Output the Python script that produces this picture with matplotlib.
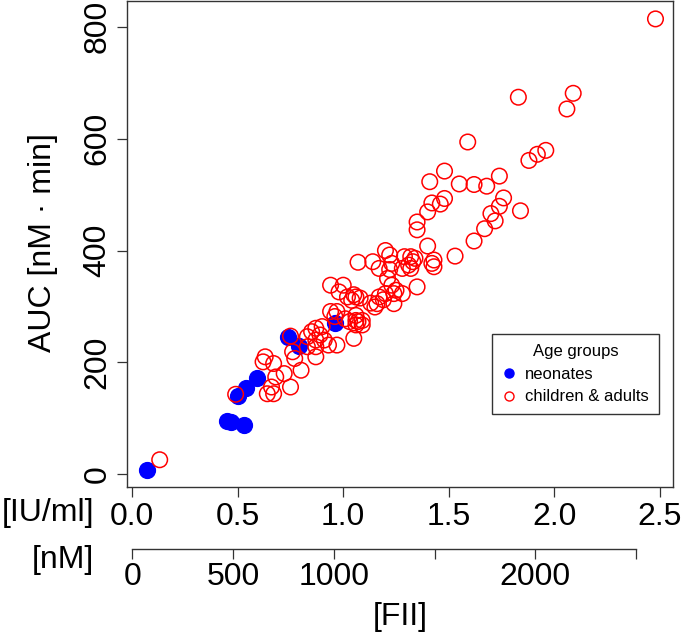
import numpy as np
import matplotlib
matplotlib.use("Agg")
import matplotlib.pyplot as plt
from matplotlib.lines import Line2D

plt.rcParams['font.family'] = ['Liberation Sans', 'DejaVu Sans']

# neonates (FII in IU/ml, AUC in nM*min)
neo_fii = [0.07, 0.45, 0.47, 0.53, 0.50, 0.54, 0.59, 0.74, 0.79, 0.96]
neo_auc = [8, 96, 94, 89, 140, 155, 172, 245, 230, 271]

# children & adults
ca_fii = [2.48, 2.09, 2.06, 1.83, 1.59, 1.96, 1.92, 1.88, 1.48, 1.41,
          1.55, 1.62, 1.68, 1.74, 1.76, 1.74, 1.70, 1.72, 1.67, 1.62,
          1.84, 1.48, 1.46, 1.42, 1.40, 1.35, 1.35, 1.40, 1.53,
          1.20, 1.22, 1.07, 1.14, 1.17, 1.23, 1.22, 1.32, 1.34, 1.29,
          1.43, 1.31, 1.33, 1.32, 1.42, 1.43, 1.28, 1.21, 1.23, 1.25,
          1.24, 1.28, 1.35, 1.17, 1.16, 1.15, 1.24, 1.00, 0.98, 1.02,
          1.06, 1.04, 0.94, 1.05, 1.08, 1.13, 1.19, 1.20,
          1.06, 1.06, 1.09, 1.01, 0.94, 0.97, 0.96, 1.03, 1.07, 1.09,
          1.06, 0.87, 0.85, 0.90, 0.83, 0.87, 0.89, 0.91, 0.87, 0.93,
          0.97, 1.05, 0.87, 0.83, 0.76, 0.77, 0.80, 0.63, 0.62, 0.67,
          0.72, 0.68, 0.66, 0.64, 0.67, 0.75, 0.49, 0.13, 0.75]
ca_auc = [814, 681, 653, 674, 594, 579, 572, 561, 542, 523,
          519, 518, 515, 533, 494, 479, 466, 453, 439, 417,
          471, 493, 483, 485, 469, 451, 437, 408, 390,
          400, 392, 379, 380, 368, 377, 366, 389, 386, 389,
          383, 374, 380, 368, 377, 371, 368, 350, 338, 329,
          323, 323, 335, 317, 305, 299, 305, 338, 326, 317,
          317, 311, 338, 321, 315, 306, 312, 323,
          284, 275, 275, 278, 291, 291, 282, 273, 273, 267,
          267, 261, 255, 264, 246, 240, 249, 240, 228, 231,
          231, 243, 210, 228, 219, 207, 186, 210, 201, 198,
          180, 174, 156, 144, 144, 156, 143, 26, 247]

x_ticks = [0.0, 0.5, 1.0, 1.5, 2.0, 2.5]
y_ticks = [0, 200, 400, 600, 800]
nm_ticks = [0, 500, 1000, 1500, 2000, 2500]
nm_labels = ['0', '500', '1000', '', '2000', '']
iu_to_nm = 1047.0

fig = plt.figure(figsize=(6.85, 6.35), dpi=100)
ax = fig.add_axes([127/685, 1 - 487/635, 546/685, 486/635])

ax.scatter(neo_fii, neo_auc, s=130, color='#0000FF', edgecolors='#0000FF', linewidths=1.0, zorder=2)
ax.scatter(ca_fii, ca_auc, s=125, facecolors='none', edgecolors='#FF0000', linewidths=1.1, zorder=3)

xlim = (-0.025, 2.563)
ax.set_xlim(*xlim)
ax.set_ylim(-22.7, 846)
ax.set_xticks(x_ticks)
ax.set_xticklabels([f'{t:.1f}' for t in x_ticks])
ax.set_yticks(y_ticks)
ax.set_yticklabels([str(t) for t in y_ticks], rotation=90, va='center')
ax.tick_params(axis='both', labelsize=23, length=7.5, width=0.9, colors='#333333', labelcolor='black')
ax.tick_params(axis='x', pad=3)
ax.tick_params(axis='y', pad=3)
for sp in ax.spines.values():
    sp.set_color('#333333')
    sp.set_linewidth(1.0)

leg_handles = [
    Line2D([], [], marker='o', linestyle='none', markersize=6.5, color='#0000FF'),
    Line2D([], [], marker='o', linestyle='none', markersize=6.5, markerfacecolor='none',
           markeredgecolor='#FF0000', markeredgewidth=1.0),
]
leg = ax.legend(leg_handles, ['neonates', 'children & adults'], title='Age groups',
                loc='upper left', bbox_to_anchor=(0.669, 0.314), borderaxespad=0,
                fontsize=12, title_fontsize=12, fancybox=False, framealpha=1,
                edgecolor='#333333', handletextpad=0.6, handlelength=0.75,
                borderpad=0.6, labelspacing=0.45)
leg.get_frame().set_linewidth(1.0)

# second axis in nM below the plot
ax2 = fig.add_axes([127/685, 1 - 549.3/635, 546/685, 0.0001])
ax2.set_xlim(xlim[0] * iu_to_nm, xlim[1] * iu_to_nm)
ax2.set_yticks([])
for side in ['top', 'left', 'right']:
    ax2.spines[side].set_visible(False)
ax2.spines['bottom'].set_bounds(0, 2500)
ax2.spines['bottom'].set_color('#333333')
ax2.spines['bottom'].set_linewidth(1.0)
ax2.patch.set_visible(False)
ax2.set_xticks(nm_ticks)
ax2.set_xticklabels(nm_labels)
ax2.tick_params(axis='x', labelsize=23, length=7.5, width=0.9, colors='#333333', labelcolor='black', pad=2)

fig.text(94/685, 1 - 513/635, '[IU/ml]', fontsize=23, ha='right', va='center')
fig.text(94/685, 1 - 560/635, '[nM]', fontsize=23, ha='right', va='center')
fig.text(400/685, 1 - 617/635, '[FII]', fontsize=23, ha='center', va='center')
fig.text(43/685, 1 - 243/635, 'AUC [nM \u00b7 min]', fontsize=23, rotation=90, ha='center', va='center')

fig.savefig('out.png', dpi=100)
